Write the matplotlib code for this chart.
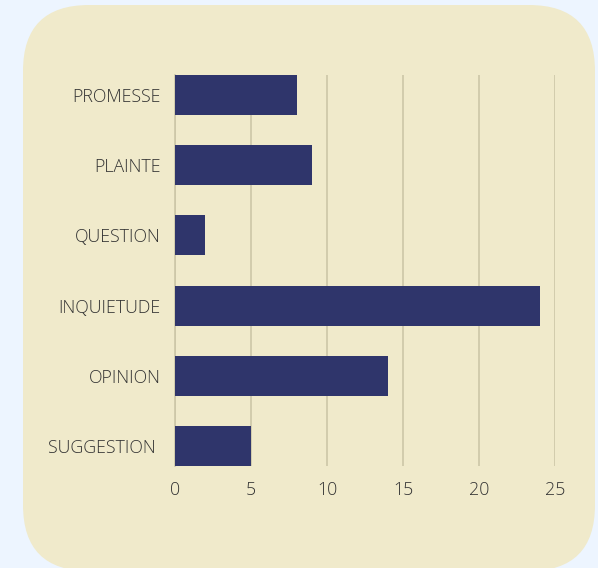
import matplotlib.pyplot as plt
from matplotlib.patches import FancyBboxPatch

categories = ["PROMESSE", "PLAINTE", "QUESTION", "INQUIETUDE", "OPINION", "SUGGESTION "]
values = [8, 9, 2, 24, 14, 5]
xticks = [0, 5, 10, 15, 20, 25]

W, H = 598, 568
fig = plt.figure(figsize=(W / 100, H / 100), dpi=100)
fig.patch.set_facecolor("#edf5ff")

# rounded beige card behind the chart
bg = fig.add_axes([0, 0, 1, 1])
bg.set_xlim(0, W)
bg.set_ylim(H, 0)
bg.axis("off")
bg.add_patch(FancyBboxPatch((23 + 66, 5 + 66), 572 - 132, 566 - 132,
                            boxstyle="round,pad=66", facecolor="#f0eacb",
                            edgecolor="none"))

ax = fig.add_axes([175 / W, (H - 466) / H, (555 - 175) / W, (466 - 75) / H])
ax.set_facecolor("none")
ypos = list(range(len(categories)))
ax.barh(ypos, values, height=0.57, color="#2f356b", zorder=3)
ax.set_ylim(len(categories) - 1 + 0.285, -0.285)
ax.set_xlim(0, 25)
ax.set_yticks(ypos)
ax.set_yticklabels(categories)
ax.set_xticks(xticks)
ax.grid(axis="x", color="#cdc7a8", linewidth=1.2, zorder=0)
for s in ["top", "right", "bottom"]:
    ax.spines[s].set_visible(False)
ax.spines["left"].set_color("#cdc7a8")
ax.spines["left"].set_linewidth(1.2)
ax.tick_params(length=0, labelsize=12.8, labelcolor="#333333")
ax.tick_params(axis="y", pad=10.5)
ax.tick_params(axis="x", pad=11)
for lab in ax.get_xticklabels() + ax.get_yticklabels():
    lab.set_fontfamily(["Open Sans", "DejaVu Sans"])
    lab.set_fontweight("light")
    lab.set_fontstretch("normal")

plt.savefig("out.png", dpi=100, facecolor=fig.get_facecolor())
